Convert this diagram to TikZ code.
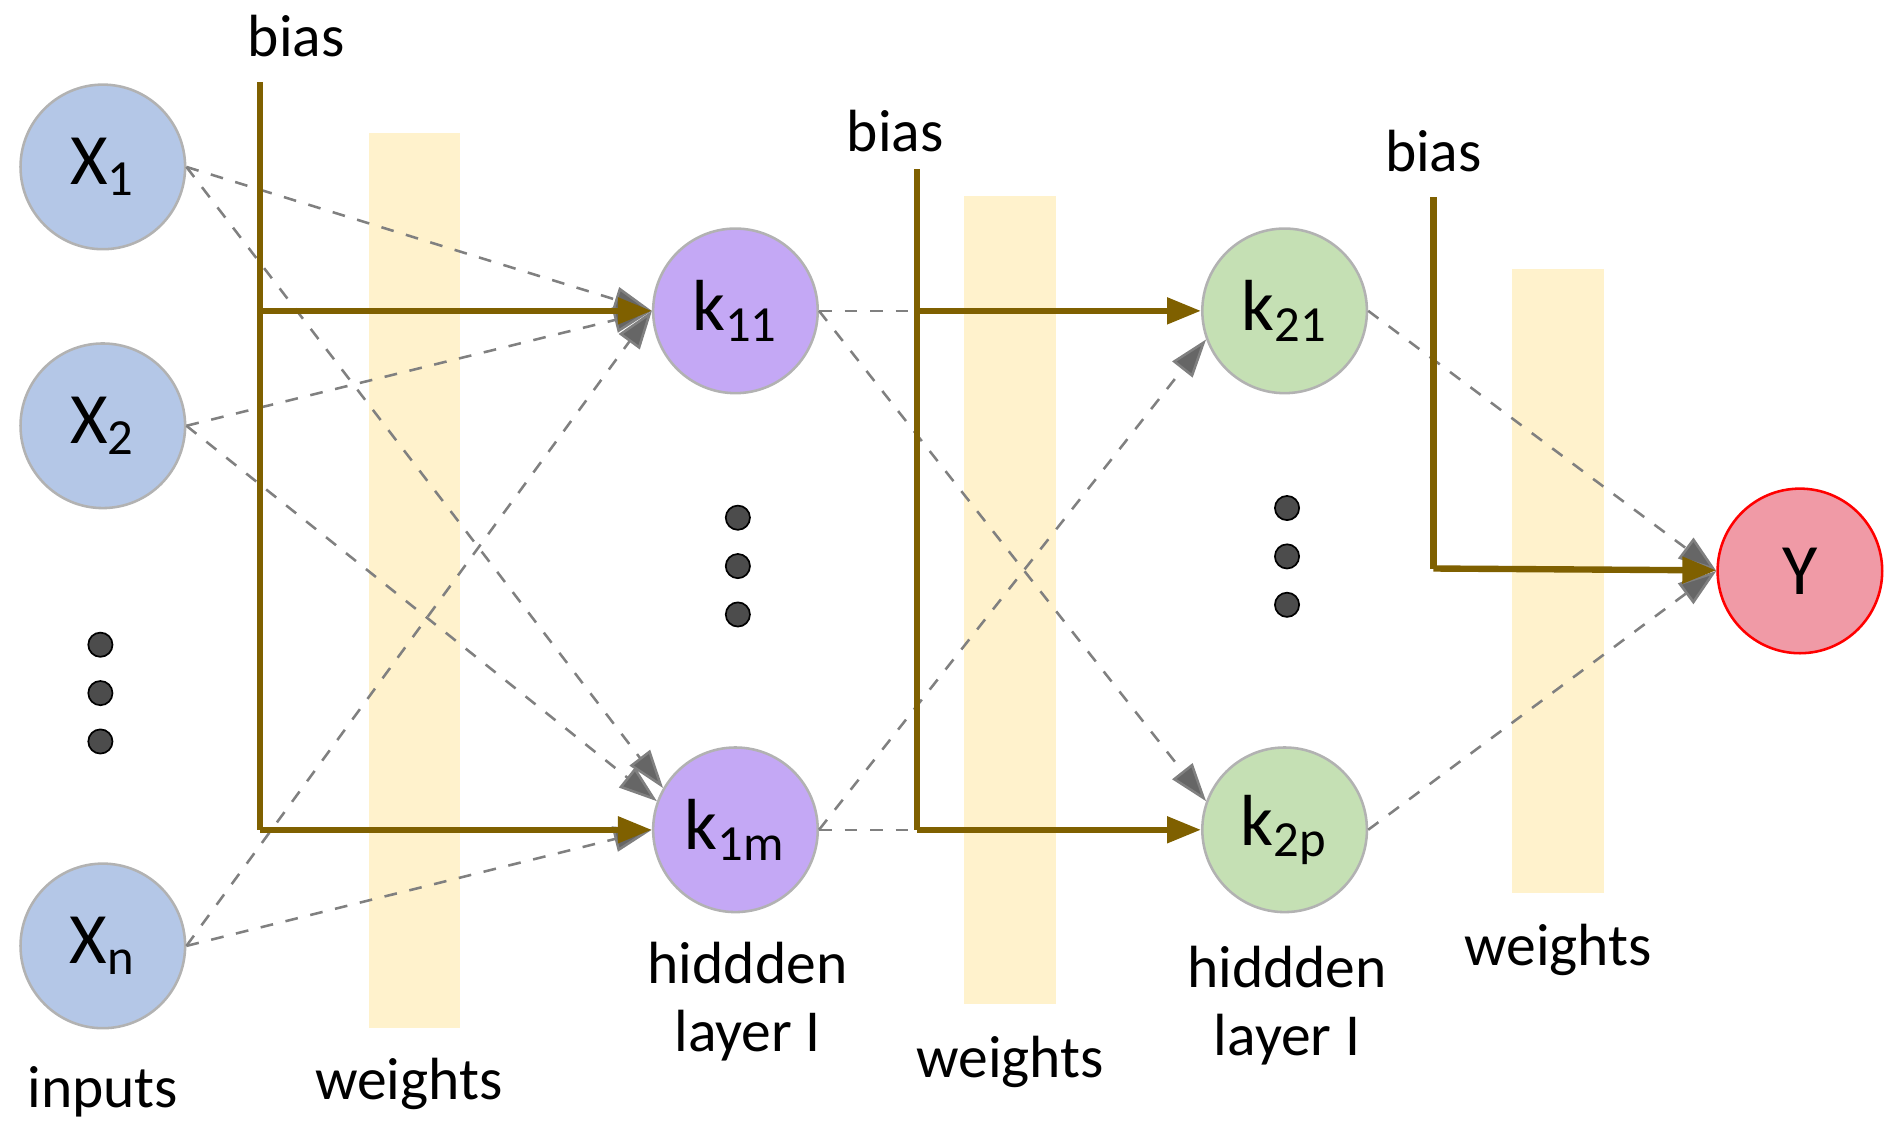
\documentclass[tikz,border=0pt]{standalone}
\usepackage{fontspec}
\setmainfont{Carlito}
\usetikzlibrary{arrows.meta}
\definecolor{brn}{HTML}{7F6000}
\definecolor{inb}{HTML}{B4C7E7}
\definecolor{pur}{HTML}{C4A8F5}
\definecolor{grn}{HTML}{C5E0B4}
\definecolor{redf}{HTML}{F09AA6}
\definecolor{wt}{HTML}{FFF2CC}
\begin{document}
\begin{tikzpicture}[x=0.01cm,y=-0.01cm,
 neur/.style={circle,minimum size=1.36cm,inner sep=0pt,draw=gray!60,line width=0.6pt,font=\fontsize{17}{17}\selectfont},
 dot/.style={circle,fill=black!70,draw=black,minimum size=0.2cm,inner sep=0pt},
 bias/.style={draw=brn,line width=1.5pt},
 barr/.style={bias,-{Triangle[length=8pt,width=6pt]}},
 dsh/.style={draw=gray,dashed,line width=0.6pt},
 darr/.style={dsh,-{Triangle[length=9pt,width=6pt,fill=gray!80!black]}},
 lbl/.style={font=\fontsize{14}{16}\selectfont,align=center},
 wbar/.style={fill=wt,draw=none}]
\useasboundingbox (0,0) rectangle (1560,934);
\fill[wbar] (305,110) rectangle (380,850);
\fill[wbar] (797,162) rectangle (873,830);
\fill[wbar] (1250,222) rectangle (1326,738);
\node[neur,fill=inb] (x1) at (85,138) {X\textsubscript{1}};
\node[neur,fill=inb] (x2) at (85,352) {X\textsubscript{2}};
\node[neur,fill=inb] (xn) at (85,782) {X\textsubscript{n}};
\node[neur,fill=pur] (k11) at (608,257) {k\textsubscript{11}};
\node[neur,fill=pur] (k1m) at (608,686) {k\textsubscript{1m}};
\node[neur,fill=grn] (k21) at (1062,257) {k\textsubscript{21}};
\node[neur,fill=grn] (k2p) at (1062,686) {k\textsubscript{2p}};
\node[neur,fill=redf,draw=red] (y) at (1488,472) {Y};
\foreach \n/\x/\y in {a1/83/533,a2/83/573,a3/83/613,b1/610/428,b2/610/468,b3/610/508,c1/1064/420,c2/1064/460,c3/1064/500}
  \node[dot] (\n) at (\x,\y) {};
% dashed
\foreach \s in {x1,x2,xn} \draw[darr] (\s.east) -- (k11.west);
\draw[darr] (x1.east) -- (k1m.150);
\draw[darr] (x2.east) -- (k1m.160);
\draw[darr] (xn.east) -- (k1m.west);
\draw[dsh] (k11.east) -- (758,257); \draw[dsh] (k1m.east) -- (758,686);
\draw[darr] (k11.east) -- (k2p.160); \draw[darr] (k1m.east) -- (k21.200);
\draw[darr] (k21.east) -- (y.west); \draw[darr] (k2p.east) -- (y.west);
% bias
\coordinate (b1t) at (215,68); \coordinate (b1a) at (215,257); \coordinate (b1b) at (215,686);
\coordinate (b2t) at (758,140); \coordinate (b2a) at (758,257); \coordinate (b2b) at (758,686);
\coordinate (b3t) at (1185,163); \coordinate (b3b) at (1185,470);
\draw[bias] (b1t) -- (b1b); \draw[barr] (b1a) -- (k11); \draw[barr] (b1b) -- (k1m);
\draw[bias] (b2t) -- (b2b); \draw[barr] (b2a) -- (k21); \draw[barr] (b2b) -- (k2p);
\draw[bias] (b3t) -- (b3b); \draw[barr] (b3b) -- (y);
\node[lbl] (t1) at (245,30) {bias};
\node[lbl] (t2) at (740,108) {bias};
\node[lbl] (t3) at (1185,125) {bias};
% labels
\node[lbl] (w1) at (338,896) {weights};
\node[lbl] (w2) at (835,878) {weights};
\node[lbl] (w3) at (1288,785) {weights};
\node[lbl] (in) at (85,903) {inputs};
\node[lbl] (h1) at (618,828) {hiddden\\layer I};
\node[lbl] (h2) at (1064,831) {hiddden\\layer I};
\end{tikzpicture}
\end{document}
